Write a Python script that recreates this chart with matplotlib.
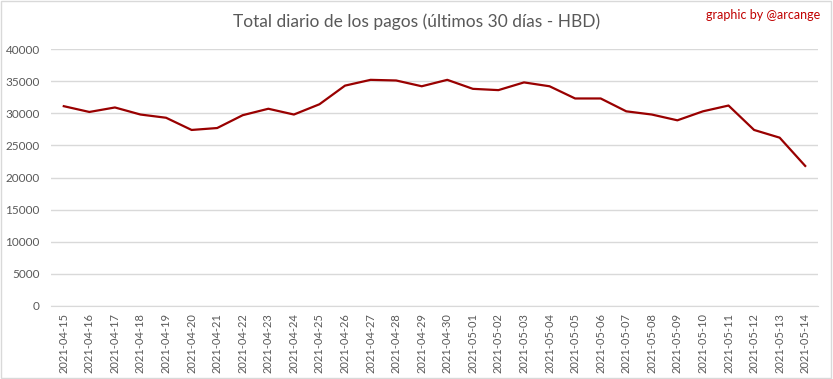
import matplotlib
matplotlib.use("Agg")
import matplotlib.pyplot as plt
from matplotlib.patches import Rectangle

dates = ["2021-04-15", "2021-04-16", "2021-04-17", "2021-04-18", "2021-04-19",
         "2021-04-20", "2021-04-21", "2021-04-22", "2021-04-23", "2021-04-24",
         "2021-04-25", "2021-04-26", "2021-04-27", "2021-04-28", "2021-04-29",
         "2021-04-30", "2021-05-01", "2021-05-02", "2021-05-03", "2021-05-04",
         "2021-05-05", "2021-05-06", "2021-05-07", "2021-05-08", "2021-05-09",
         "2021-05-10", "2021-05-11", "2021-05-12", "2021-05-13", "2021-05-14"]
payouts = [31100, 30200, 30900, 29800, 29300,
           27400, 27700, 29700, 30700, 29800,
           31400, 34300, 35200, 35100, 34200,
           35200, 33800, 33600, 34800, 34200,
           32300, 32300, 30300, 29800, 28900,
           30300, 31200, 27400, 26200, 21800]
yticks = list(range(0, 40001, 5000))

plt.rcParams['font.family'] = ['Lato', 'DejaVu Sans']

fig = plt.figure(figsize=(8.33, 3.79), dpi=100)
ax = fig.add_axes([51 / 833, 1 - 306 / 379, (818 - 51) / 833, (306 - 49) / 379])

x = range(len(dates))
ax.plot(x, payouts, color="#990000", linewidth=1.6)

ax.set_xlim(-0.5, len(dates) - 0.5)
ax.set_ylim(0, 40000)
ax.set_yticks(yticks)
ax.set_yticklabels([str(v) for v in yticks], fontsize=8.5, color="#595959")
ax.set_xticks(list(x))
ax.set_xticklabels(dates, rotation=90, fontsize=8, color="#595959")
ax.tick_params(axis='x', length=0, pad=5)
ax.tick_params(axis='y', length=0, pad=8)
ax.grid(axis='y', color="#d9d9d9", linewidth=1)
ax.set_axisbelow(True)
for s in ["top", "right", "left"]:
    ax.spines[s].set_visible(False)
ax.spines["bottom"].set_color("#d9d9d9")

fig.text(0.5, 1 - 22 / 379, "Total diario de los pagos (últimos 30 días - HBD)",
         ha="center", va="center", fontsize=12.5, color="#595959")
fig.text(820 / 833, 1 - 15 / 379, "graphic by @arcange", ha="right", va="center",
         fontsize=9, color="#c00000")

fig.patches.append(Rectangle((0.001, 0.002), 0.997, 0.995, transform=fig.transFigure,
                             fill=False, edgecolor="#d9d9d9", linewidth=1))

fig.savefig("out.png", dpi=100)
